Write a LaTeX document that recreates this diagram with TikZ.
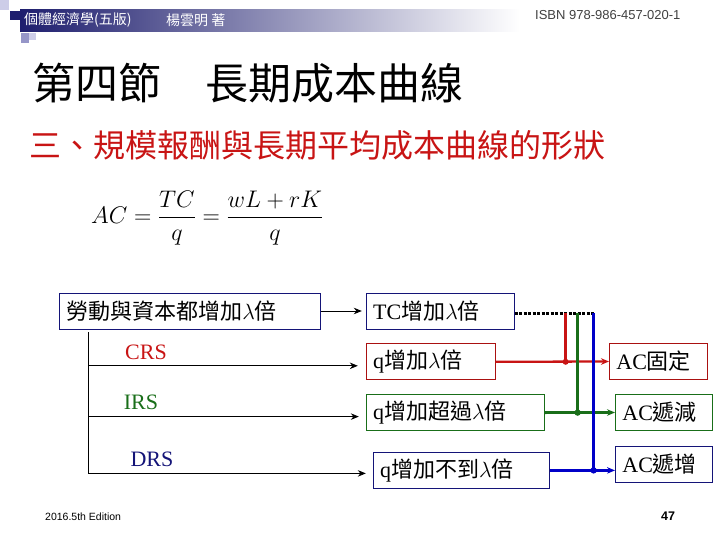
\RequirePackage{fix-cm}
\documentclass[tikz,border=0pt]{standalone}
\usepackage{amsmath}
\usepackage{fontspec}
\setmainfont{Liberation Serif}
\newfontfamily\cjk{Noto Sans CJK TC}
\newfontfamily\hei{Liberation Sans}
\usetikzlibrary{positioning, arrows.meta}

\definecolor{navyc}{RGB}{20,20,120}
\definecolor{redc}{RGB}{200,20,20}
\definecolor{greenc}{RGB}{25,110,25}
\definecolor{bluec}{RGB}{0,0,200}
\definecolor{barc}{RGB}{30,30,110}
\definecolor{lavc}{RGB}{205,205,232}
\definecolor{lavd}{RGB}{150,150,200}

\newcommand{\zh}[1]{{\cjk #1}}

\begin{document}
\begin{tikzpicture}[
    x=1pt, y=-1pt,
    >={Stealth[length=8pt, width=6.5pt]},
    % Styles
    txt/.style={inner sep=0pt, anchor=west},
    box/.style={draw=navyc, line width=0.8pt, minimum height=36pt, inner xsep=7pt, inner ysep=0pt, align=left, anchor=west, font=\fontsize{22pt}{26pt}\selectfont},
    redbox/.style={box, draw=redc!85!black},
    greenbox/.style={box, draw=greenc},
    rs/.style={inner sep=0pt, font=\fontsize{22pt}{26pt}\selectfont},
    redline/.style={draw=redc, line width=2.3pt},
    greenline/.style={draw=greenc, line width=2.8pt},
    blueline/.style={draw=bluec, line width=3pt}
    ]
    \useasboundingbox (0,0) rectangle (720,540);

    % header band
    \fill[lavc] (0,0) rectangle (9,10);
    \fill[barc] (10,11) rectangle (20,20);
    \shade[left color=barc, right color=white] (20,10) rectangle (520,32);
    \fill[lavd] (21,33) rectangle (29,43);
    \fill[lavc] (29,33) rectangle (36,40);
    \node (book) [txt, text=white, font=\cjk\fontsize{14pt}{16pt}\selectfont] at (24,20) {個體經濟學(五版)};
    \node (author) [txt, text=white, font=\cjk\fontsize{14pt}{16pt}\selectfont] at (166,20) {楊雲明 著};
    \node (isbn) [txt, text=black!75, font=\hei\fontsize{13pt}{15pt}\selectfont] at (535,15) {ISBN 978-986-457-020-1};

    % titles
    \node (title) [txt, font=\cjk\fontsize{43pt}{48pt}\selectfont] at (32,83) {第四節\hspace{44pt}長期成本曲線};
    \node (subtitle) [txt, text=redc, font=\cjk\fontsize{32pt}{36pt}\selectfont] at (29,145) {三、規模報酬與長期平均成本曲線的形狀};
    \node (formula) [txt, font=\fontsize{24pt}{28pt}\selectfont] at (91,218) {$AC=\dfrac{TC}{q}=\dfrac{wL+rK}{q}$};

    % 1. Inputs and total cost
    \node (inputs) [box, text width=247pt] at (59,311) {\zh{勞動與資本都增加}$\lambda$\zh{倍}};
    \node (tc) [box, text width=134pt, right=45pt of inputs] {TC\zh{增加}$\lambda$\zh{倍}};

    % 2. Output cases
    \node (qeq) [redbox, text width=115pt, below=14pt of tc.south west, anchor=north west] {q\zh{增加}$\lambda$\zh{倍}};
    \node (qmore) [greenbox, text width=164pt, below=14pt of qeq.south west, anchor=north west] {q\zh{增加超過}$\lambda$\zh{倍}};
    \node (qless) [box, text width=162pt, below=21pt of qmore.south west, anchor=north west, xshift=7pt] {q\zh{增加不到}$\lambda$\zh{倍}};

    % 3. Average cost
    \node (acfix) [redbox, text width=84pt] at (609,361.5) {AC\zh{固定}};
    \node (acdec) [greenbox, text width=83pt] at (615,412.5) {AC\zh{遞減}};
    \node (acinc) [box, text width=83pt] at (615,464) {AC\zh{遞增}};

    % returns to scale branches
    \coordinate (spine) at ([xshift=29pt, yshift=-3pt]inputs.south west);
    \coordinate (crsend) at ([xshift=-8pt, yshift=-4pt]qeq.west);
    \coordinate (irsend) at ([xshift=-7pt, yshift=-4pt]qmore.west);
    \coordinate (drsend) at ([xshift=-7pt, yshift=-3pt]qless.west);
    \draw[thick] (spine) -- (spine |- drsend);
    \draw[->, thick] (spine |- crsend) -- (crsend);
    \draw[->, thick] (spine |- irsend) -- (irsend);
    \draw[->, thick] (spine |- drsend) -- (drsend);
    \node (crs) [rs, text=redc] at (146,352) {CRS};
    \node (irs) [rs, text=greenc] at (141,402) {IRS};
    \node (drs) [rs, text=navyc] at (152,459) {DRS};

    \draw[->, thick, shorten >=4pt] (inputs) -- (tc);

    % cost to average cost
    \coordinate (btop) at ([xshift=79pt, yshift=-2pt]tc.east);
    \coordinate (gtop) at ([xshift=-16pt]btop);
    \coordinate (rtop) at ([xshift=-28pt]btop);
    \draw[line width=3pt, dash pattern=on 3pt off 1.5pt] (tc.east |- btop) -- (btop);

    \draw[redline, ->] (qeq.east) -- (acfix.west);
    \draw[greenline, ->] (qmore.east) -- (acdec.west);
    \draw[blueline, ->] (qless.east) -- (acinc.west |- qless.east);
    \draw[redline] (rtop) -- (rtop |- qeq.east);
    \draw[greenline] (gtop) -- (gtop |- qmore.east);
    \draw[blueline] (btop) -- (btop |- qless.east);
    \fill[redc] (rtop |- qeq.east) circle (3pt);
    \fill[greenc] (gtop |- qmore.east) circle (3.2pt);
    \fill[bluec] (btop |- qless.east) circle (3.2pt);

    % footer
    \node (edition) [txt, font=\hei\fontsize{10.5pt}{12pt}\selectfont] at (45,517) {2016.5th Edition};
    \node (page) [txt, font=\hei\bfseries\fontsize{12.5pt}{14pt}\selectfont] at (661,516) {47};
\end{tikzpicture}
\end{document}
